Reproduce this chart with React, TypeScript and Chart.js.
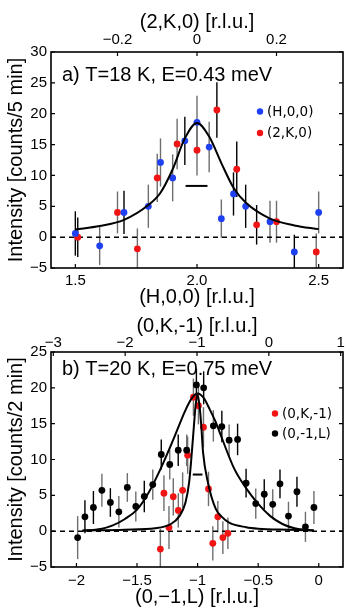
import React, { useEffect, useRef } from "react";
import { Chart, registerables } from "chart.js";

Chart.register(...registerables);

// ---------------- Panel a) data ----------------
const aAxisH = [1.4, 2.6]; // bottom axis range (H,0,0)
const aAxisK = [-0.3673, 0.3673]; // top axis range (2,K,0)
const aAxisI = [-5, 30];

const aH = [1.5, 1.6, 1.7, 1.8, 1.85, 1.9, 1.95, 2.0, 2.05, 2.1, 2.15, 2.2, 2.3, 2.4, 2.5];
const aHI = [0.6, -1.4, 4.0, 5.0, 12.1, 9.6, 15.6, 18.6, 14.6, 3.0, 7.0, 5.0, 2.5, -2.4, 4.0];
const aHErr = [3.6, 3.1, 3.5, 3.5, 3.9, 3.8, 3.9, 4.3, 4.1, 3.1, 3.5, 3.5, 3.4, 2.8, 3.4];

const aK = [-0.3, -0.2, -0.15, -0.1, -0.05, 0, 0.05, 0.1, 0.15, 0.2, 0.3];
const aKI = [0.0, 4.0, -1.9, 9.6, 15.1, 14.1, 20.6, 11.0, 2.0, 2.5, -2.4];
const aKErr = [3.2, 3.4, 3.3, 3.9, 4.1, 4.1, 4.5, 4.5, 3.2, 3.4, 3.0];

const aFitH = [1.5, 1.6, 1.7, 1.8, 1.85, 1.9, 1.95, 2.0, 2.05, 2.1, 2.15, 2.2, 2.3, 2.4, 2.5];
const aFitI = [1.25, 1.8, 2.8, 5.2, 7.2, 11.0, 16.0, 18.5, 16.3, 12.0, 8.0, 5.6, 3.0, 1.9, 1.3];

const aResH = [1.953, 2.043];
const aResI = [8.3, 8.3];
const aZeroI = [0, 0];

// ---------------- Panel b) data ----------------
const bAxisL = [-2.21, 0.2]; // bottom axis range (0,-1,L)
const bAxisK = [-3.032, 1.032]; // top axis range (0,K,-1)
const bAxisI = [-5, 25];

const bL = [-1.99, -1.93, -1.86, -1.79, -1.72, -1.65, -1.58, -1.51, -1.44, -1.37, -1.3, -1.23, -1.16, -1.09, -1.01, -0.95, -0.87, -0.8, -0.74, -0.67, -0.6, -0.52, -0.45, -0.38, -0.32, -0.25, -0.18, -0.11, -0.04];
const bLI = [-0.9, 2.0, 3.3, 5.7, 4.0, 2.7, 6.1, 3.45, 4.85, 6.5, 10.7, 9.3, 11.3, 11.3, 20.4, 20.0, 14.7, 14.6, 12.7, 12.8, 6.7, 3.85, 5.15, 3.75, 6.6, 2.1, 5.5, 0.6, 3.3];
const bLErr = [3.0, 2.3, 2.3, 2.3, 2.0, 2.2, 2.0, 2.1, 2.2, 2.1, 2.1, 2.1, 2.2, 2.2, 2.3, 2.3, 2.2, 2.2, 2.2, 2.2, 2.0, 2.1, 2.1, 2.1, 2.0, 2.0, 2.1, 2.1, 2.3];

const bK = [-1.51, -1.46, -1.39, -1.33, -1.26, -1.2, -1.13, -1.05, -0.98, -0.91, -0.84, -0.78, -0.71, -0.64, -0.57];
const bKI = [-2.5, 5.3, 0.5, 4.8, 2.9, 5.7, 10.6, 18.7, 17.5, 14.5, 5.9, -1.7, 2.0, -0.9, -0.3];
const bKErr = [2.8, 2.5, 3.0, 2.6, 2.4, 2.5, 2.6, 2.6, 2.6, 2.8, 2.4, 2.4, 2.2, 2.3, 2.2];

const bWideL = [-1.95, -1.8, -1.7, -1.6, -1.5, -1.4, -1.3, -1.2, -1.1, -1.05, -1.0, -0.95, -0.9, -0.85, -0.8, -0.7, -0.6, -0.5, -0.4, -0.3, -0.2, -0.04];
const bWideI = [0.05, 0.3, 0.8, 1.7, 3.0, 5.5, 8.9, 12.8, 16.9, 18.5, 19.2, 18.6, 17.0, 15.2, 13.0, 8.8, 6.0, 3.8, 2.1, 1.0, 0.4, 0.1];

const bNarrowL = [-1.95, -1.6, -1.35, -1.22, -1.15, -1.1, -1.07, -1.05, -1.03, -1.015, -1.0, -0.985, -0.97, -0.955, -0.915, -0.85, -0.8, -0.74, -0.6, -0.5, -0.25, -0.04];
const bNarrowI = [0.1, 0.2, 0.4, 1.0, 2.1, 4.0, 6.8, 10.5, 14.8, 17.8, 19.0, 17.6, 14.8, 11.0, 6.8, 3.1, 2.0, 1.2, 0.55, 0.35, 0.2, 0.1];

const bResL = [-1.04, -0.96];
const bResI = [7.9, 7.9];
const bZeroI = [0, 0];

// ---------------- styles ----------------
const FONT = "'Liberation Sans', Arial, Helvetica, sans-serif";
const LEGEND_FONT = "13.5px 'DejaVu Sans', Verdana, sans-serif";
const BLUE = "#1f3ff2";
const RED = "#f01414";
const BLACK = "#000000";
const K = "#000000";
const G = "#6e6e6e";
const aHShade = [K, G, K, G, G, G, K, G, G, G, K, K, G, K, G];
const aKShade = [K, G, G, G, G, G, K, K, K, G, G];
const bLShade = [G, K, K, G, K, G, G, G, K, G, K, G, K, G, K, K, G, K, G, K, K, G, K, G, K, G, K, G, G];
const bKShade = bK.map(() => G);

const pts = (xs: number[], ys: number[]) => xs.map((x, i) => ({ x, y: ys[i] }));
const minus = (s: string) => s.replace("-", "\u2212");

type Deco = {
  legend: { color: string; label: string; x: number; y: number }[];
  legendTextX: number;
  note: string;
  noteX: number;
  noteY: number;
  topLabelGap: number;
  topFmt: (v: number) => string;
};

function makePlugin(deco: Deco) {
  return {
    id: "panelDeco",
    beforeDatasetsDraw(chart: any) {
      const ctx = chart.ctx;
      const a = chart.chartArea;
      ctx.save();
      ctx.beginPath();
      ctx.rect(a.left, a.top, a.right - a.left, a.bottom - a.top);
      ctx.clip();
      chart.data.datasets.forEach((ds: any, i: number) => {
        if (!ds.errorBars) return;
        const meta = chart.getDatasetMeta(i);
        const xs = chart.scales[meta.xAxisID];
        const ys = chart.scales[meta.yAxisID];
        ds.data.forEach((p: any, j: number) => {
          const x = xs.getPixelForValue(p.x);
          const y1 = ys.getPixelForValue(p.y - ds.errorBars[j]);
          const y2 = ys.getPixelForValue(p.y + ds.errorBars[j]);
          ctx.strokeStyle = ds.errorShades ? ds.errorShades[j] : BLACK;
          ctx.lineWidth = 1.4;
          ctx.beginPath();
          ctx.moveTo(x, y1);
          ctx.lineTo(x, y2);
          ctx.stroke();
        });
      });
      ctx.restore();
    },
    afterDraw(chart: any) {
      const ctx = chart.ctx;
      const a = chart.chartArea;
      ctx.save();
      ctx.strokeStyle = BLACK;
      ctx.lineWidth = 1.6;
      ctx.strokeRect(a.left, a.top, a.right - a.left, a.bottom - a.top);
      ctx.lineWidth = 1.2;
      const tl = 4;
      const sx = chart.scales.x;
      const sx2 = chart.scales.x2;
      const sy = chart.scales.y;
      ctx.beginPath();
      sx.ticks.forEach((t: any) => {
        const px = sx.getPixelForValue(t.value);
        ctx.moveTo(px, a.bottom);
        ctx.lineTo(px, a.bottom - tl);
      });
      sx2.ticks.forEach((t: any) => {
        const px = sx2.getPixelForValue(t.value);
        ctx.moveTo(px, a.top);
        ctx.lineTo(px, a.top + tl);
      });
      sy.ticks.forEach((t: any) => {
        const py = sy.getPixelForValue(t.value);
        ctx.moveTo(a.left, py);
        ctx.lineTo(a.left + tl, py);
        ctx.moveTo(a.right, py);
        ctx.lineTo(a.right - tl, py);
      });
      ctx.stroke();

      // top axis tick labels (from the top scale's own ticks)
      ctx.fillStyle = BLACK;
      ctx.font = `15px ${FONT}`;
      ctx.textAlign = "center";
      ctx.textBaseline = "alphabetic";
      sx2.ticks.forEach((t: any) => {
        const px = sx2.getPixelForValue(t.value);
        ctx.fillText(deco.topFmt(t.value), px, a.top - deco.topLabelGap);
      });

      // annotation
      ctx.font = `20px ${FONT}`;
      ctx.textAlign = "left";
      ctx.fillText(deco.note, deco.noteX, deco.noteY);

      // legend
      ctx.font = LEGEND_FONT;
      ctx.textBaseline = "middle";
      deco.legend.forEach((l) => {
        ctx.fillStyle = l.color;
        ctx.beginPath();
        ctx.arc(l.x, l.y, 3.2, 0, Math.PI * 2);
        ctx.fill();
        ctx.fillStyle = BLACK;
        ctx.fillText(l.label, deco.legendTextX, l.y + 0.5);
      });
      ctx.restore();
    },
  };
}

type PanelCfg = {
  top: number;
  width: number;
  height: number;
  xRange: number[];
  x2Range: number[];
  yRange: number[];
  xStep: number;
  x2Step: number;
  xFmt: (v: number) => string;
  xTitle: string;
  x2Title: string;
  yTitle: string;
  topH: number;
  bottomH: number;
  xTitlePadBottom: number;
  x2TitlePadTop: number;
  xTickPad: number;
  datasets: any[];
  deco: Deco;
};

function Panel({ cfg }: { cfg: PanelCfg }) {
  const ref = useRef<HTMLCanvasElement | null>(null);
  useEffect(() => {
    if (!ref.current) return;
    const titleFont = { family: FONT, size: 20, weight: "normal" as const, lineHeight: 1.2 };
    const tickFont = { family: FONT, size: 15, lineHeight: 1.2 };
    const chart = new Chart(ref.current, {
      type: "scatter",
      data: { datasets: cfg.datasets },
      options: {
        animation: false,
        responsive: false,
        devicePixelRatio: 1,
        events: [],
        layout: { padding: { left: 0, right: 11, top: 0, bottom: 0 } },
        plugins: { legend: { display: false }, tooltip: { enabled: false } },
        scales: {
          x: {
            type: "linear",
            position: "bottom",
            min: cfg.xRange[0],
            max: cfg.xRange[1],
            grid: { display: false, drawTicks: false },
            border: { display: false },
            ticks: {
              stepSize: cfg.xStep,
              includeBounds: false,
              autoSkip: false,
              maxRotation: 0,
              padding: cfg.xTickPad,
              color: BLACK,
              font: tickFont,
              callback: (v: any) => cfg.xFmt(Number(v)),
            },
            title: {
              display: true,
              text: cfg.xTitle,
              color: BLACK,
              font: titleFont,
              padding: { top: 0, bottom: cfg.xTitlePadBottom },
            },
            afterFit: (s: any) => {
              s.height = cfg.bottomH;
            },
          },
          x2: {
            type: "linear",
            axis: "x",
            position: "top",
            min: cfg.x2Range[0],
            max: cfg.x2Range[1],
            grid: { display: false, drawTicks: false },
            border: { display: false },
            ticks: {
              display: false,
              stepSize: cfg.x2Step,
              includeBounds: false,
              autoSkip: false,
              maxRotation: 0,
            },
            title: {
              display: true,
              text: cfg.x2Title,
              color: BLACK,
              font: titleFont,
              padding: { top: cfg.x2TitlePadTop, bottom: 0 },
            },
            afterFit: (s: any) => {
              s.height = cfg.topH;
            },
          },
          y: {
            type: "linear",
            position: "left",
            min: cfg.yRange[0],
            max: cfg.yRange[1],
            grid: { display: false, drawTicks: false },
            border: { display: false },
            ticks: {
              stepSize: 5,
              includeBounds: false,
              padding: 4,
              color: BLACK,
              font: tickFont,
              callback: (v: any) => minus(String(v)),
            },
            title: {
              display: true,
              text: cfg.yTitle,
              color: BLACK,
              font: titleFont,
              padding: { top: 4, bottom: 0 },
            },
            afterFit: (s: any) => {
              s.width = 51;
            },
          },
        },
      } as any,
      plugins: [makePlugin(cfg.deco) as any],
    });
    return () => chart.destroy();
  }, [cfg]);
  return (
    <canvas
      ref={ref}
      width={cfg.width}
      height={cfg.height}
      style={{
        display: "block",
        position: "absolute",
        left: 0,
        top: cfg.top,
        width: cfg.width,
        height: cfg.height,
      }}
    />
  );
}

const markers = (data: any, color: string, errs: number[], shades: string[], xAxisID = "x") => ({
  data,
  xAxisID,
  yAxisID: "y",
  showLine: false,
  pointRadius: 3.4,
  pointBorderWidth: 0,
  pointBackgroundColor: color,
  backgroundColor: color,
  borderColor: color,
  errorBars: errs,
  errorShades: shades,
  order: 2,
});

const curve = (data: any, width = 2, dash: number[] = [], order = 0) => ({
  data,
  xAxisID: "x",
  yAxisID: "y",
  showLine: true,
  pointRadius: 0,
  borderColor: BLACK,
  borderWidth: width,
  borderDash: dash,
  cubicInterpolationMode: "monotone",
  fill: false,
  order,
});

const panelA: PanelCfg = {
  top: 0,
  width: 354,
  height: 310,
  xRange: aAxisH,
  x2Range: aAxisK,
  yRange: aAxisI,
  xStep: 0.5,
  x2Step: 0.2,
  xFmt: (v) => v.toFixed(1),
  xTitle: "(H,0,0) [r.l.u.]",
  x2Title: "(2,K,0) [r.l.u.]",
  yTitle: "Intensity [counts/5 min]",
  topH: 52,
  bottomH: 42,
  xTitlePadBottom: 1,
  x2TitlePadTop: 10,
  xTickPad: 4,
  datasets: [
    curve(pts(aAxisH, aZeroI), 1.5, [5, 4], 4),
    markers(pts(aH, aHI), BLUE, aHErr, aHShade, "x"),
    markers(pts(aK, aKI), RED, aKErr, aKShade, "x2"),
    curve(pts(aFitH, aFitI), 2, [], 0),
    curve(pts(aResH, aResI), 2, [], 0),
  ],
  deco: {
    legend: [
      { color: BLUE, label: "(H,0,0)", x: 260, y: 111.5 },
      { color: RED, label: "(2,K,0)", x: 260, y: 133 },
    ],
    legendTextX: 267,
    note: "a) T=18 K, E=0.43 meV",
    noteX: 62,
    noteY: 81,
    topLabelGap: 8.5,
    topFmt: (v) => (Math.abs(v) < 1e-9 ? "0" : minus(v.toFixed(1))),
  },
};

const panelB: PanelCfg = {
  top: 300,
  width: 354,
  height: 309,
  xRange: bAxisL,
  x2Range: bAxisK,
  yRange: bAxisI,
  xStep: 0.5,
  x2Step: 1,
  xFmt: (v) => (Math.abs(v) < 1e-9 ? "0" : minus(String(v))),
  xTitle: "(0,\u22121,L) [r.l.u.]",
  x2Title: "(0,K,-1) [r.l.u.]",
  yTitle: "Intensity [counts/2 min]",
  topH: 52,
  bottomH: 42,
  xTitlePadBottom: 0,
  x2TitlePadTop: 14,
  xTickPad: 5,
  datasets: [
    curve(pts(bAxisL, bZeroI), 1.5, [5, 4], 4),
    markers(pts(bL, bLI), BLACK, bLErr, bLShade, "x"),
    markers(pts(bK, bKI), RED, bKErr, bKShade, "x2"),
    curve(pts(bWideL, bWideI), 2, [], 0),
    curve(pts(bNarrowL, bNarrowI), 2, [], 0),
    curve(pts(bResL, bResI), 2, [], 0),
  ],
  deco: {
    legend: [
      { color: RED, label: "(0,K,-1)", x: 275, y: 113.5 },
      { color: BLACK, label: "(0,-1,L)", x: 275, y: 133.5 },
    ],
    legendTextX: 282,
    note: "b) T=20 K, E=0.75 meV",
    noteX: 62,
    noteY: 75,
    topLabelGap: 5.5,
    topFmt: (v) => (Math.abs(v) < 1e-9 ? "0" : minus(String(v))),
  },
};

export default function App() {
  return (
    <div
      style={{
        position: "absolute",
        left: 0,
        top: 0,
        width: 354,
        height: 609,
        background: "#ffffff",
      }}
    >
      <Panel cfg={panelA} />
      <Panel cfg={panelB} />
    </div>
  );
}
